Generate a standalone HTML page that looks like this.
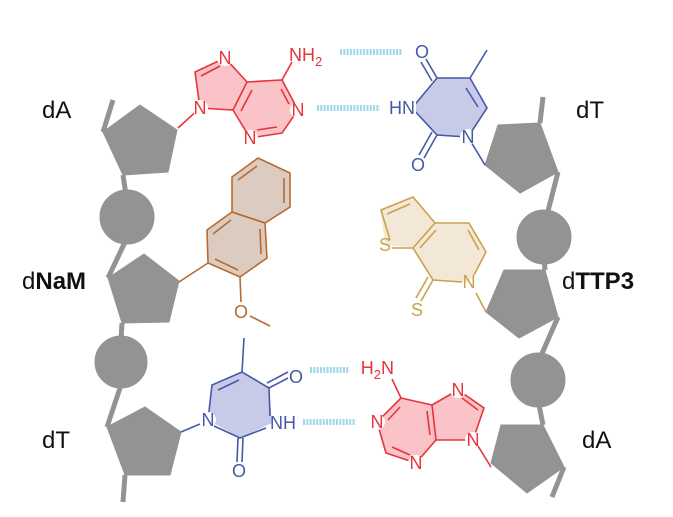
<!DOCTYPE html>
<html><head><meta charset="utf-8"><style>
html,body{margin:0;padding:0;background:#fff;}
svg{display:block;}
text{font-family:"Liberation Sans",sans-serif;}
</style></head><body>
<svg width="673" height="517" viewBox="0 0 673 517" xmlns="http://www.w3.org/2000/svg">
<!-- backbones -->
<g fill="#939393" stroke="#939393" stroke-width="5" stroke-linejoin="round">
  <polyline fill="none" points="113,100 103,132"/>
  <polyline fill="none" points="123,175 126,195"/>
  <polyline fill="none" points="126,240 108,278"/>
  <polyline fill="none" points="122,323 121,340"/>
  <polyline fill="none" points="121,385 107,427"/>
  <polyline fill="none" points="125,475 123,502"/>
  <polygon stroke-width="1" points="140,105 177,130 168,172 123,175 103,132"/>
  <circle stroke-width="1" cx="127" cy="217" r="27"/>
  <polygon stroke-width="1" points="144,254 179,281 169,322 122,323 108,278"/>
  <circle stroke-width="1" cx="121" cy="362" r="26"/>
  <polygon stroke-width="1" points="145,407 181,432 170,475 125,475 107,427"/>
  <polyline fill="none" points="543,97 540,123"/>
  <polyline fill="none" points="558,172 547,215"/>
  <polyline fill="none" points="544,260 545,270"/>
  <polyline fill="none" points="558,317 540,358"/>
  <polyline fill="none" points="538,400 543,425"/>
  <polyline fill="none" points="564,467 552,497"/>
  <polygon stroke-width="1" points="498,125 540,123 558,172 520,193 485,165"/>
  <circle stroke-width="1" cx="544" cy="237" r="27"/>
  <polygon stroke-width="1" points="504,270 545,270 558,317 519,338 486,312"/>
  <circle stroke-width="1" cx="538" cy="380" r="27"/>
  <polygon stroke-width="1" points="501,425 543,425 564,467 527,493 491,463"/>
</g>

<!-- H-bonds -->
<g stroke="#9dd7e9" stroke-width="6" stroke-dasharray="2 1.3">
  <line x1="340" y1="52" x2="402" y2="52"/>
  <line x1="317" y1="108" x2="380" y2="108"/>
  <line x1="310" y1="370" x2="349" y2="370"/>
  <line x1="303" y1="422" x2="356" y2="422"/>
</g>

<!-- top adenine -->
<g stroke="#e8343a" stroke-width="1.6" fill="none">
  <polygon fill="#f9c3c7" stroke="none" points="200,108 195,72 225,58 247,82 282,80 298,110 282,133 250,138 233,110"/>
  <polyline points="178,128 200,108 195,72 225,58 247,82 233,110 200,108"/>
  <polyline points="247,82 282,80 298,110 282,133 250,138 233,110"/>
  <line x1="282" y1="80" x2="292" y2="62"/>
  <line x1="201" y1="76" x2="220" y2="66"/>
  <line x1="252" y1="90" x2="241" y2="111"/>
  <line x1="281" y1="89" x2="289" y2="104"/>
  <line x1="277" y1="127" x2="257" y2="130"/>
</g>
<g fill="#e8343a" font-size="18" text-anchor="middle">
  <circle cx="200" cy="108" r="8" fill="#fff"/><text x="200" y="114">N</text>
  <circle cx="225" cy="58" r="8" fill="#fff"/><text x="225" y="64">N</text>
  <circle cx="298" cy="110" r="8" fill="#fff"/><text x="298" y="116">N</text>
  <circle cx="250" cy="138" r="8" fill="#fff"/><text x="250" y="144">N</text>
  <text x="289" y="61" text-anchor="start">NH<tspan font-size="13" dy="5">2</tspan></text>
</g>

<!-- top thymine -->
<g stroke="#4659a8" stroke-width="1.6" fill="none">
  <polygon fill="#c8cbe8" stroke="none" points="412,108 437,78 470,78 487,108 468,137 437,135"/>
  <polyline points="412,108 437,78 470,78 487,108 468,137 437,135 412,108"/>
  <line x1="470" y1="78" x2="487" y2="50"/>
  <line x1="466" y1="88" x2="478" y2="107"/>
  <line x1="437" y1="78" x2="426" y2="59"/>
  <line x1="432" y1="81" x2="421" y2="62"/>
  <line x1="437" y1="135" x2="424" y2="158"/>
  <line x1="432" y1="132" x2="419" y2="155"/>
  <line x1="468" y1="137" x2="485" y2="165"/>
</g>
<g fill="#4659a8" font-size="18" text-anchor="middle">
  <circle cx="422" cy="52" r="8" fill="#fff"/><text x="422" y="58">O</text>
  <circle cx="418" cy="165" r="8" fill="#fff"/><text x="418" y="171">O</text>
  <circle cx="468" cy="137" r="8" fill="#fff"/><text x="468" y="143">N</text>
  <rect x="388" y="98" width="28" height="20" fill="#fff"/><text x="402" y="114">HN</text>
</g>

<!-- dNaM -->
<g stroke="#b86a30" stroke-width="1.6" fill="none">
  <polygon fill="#dccbc0" stroke="none" points="258,158 290,173 290,207 265,223 267,258 240,277 208,263 207,230 232,212 232,177"/>
  <polygon points="258,158 290,173 290,207 265,223 232,212 232,177"/>
  <polygon points="232,212 265,223 267,258 240,277 208,263 207,230"/>
  <line x1="238" y1="180" x2="257" y2="166"/>
  <line x1="284" y1="178" x2="284" y2="203"/>
  <line x1="213" y1="234" x2="231" y2="220"/>
  <line x1="260" y1="229" x2="261" y2="254"/>
  <line x1="238" y1="270" x2="215" y2="259"/>
  <line x1="179" y1="282" x2="208" y2="263"/>
  <line x1="240" y1="277" x2="241" y2="302"/>
  <line x1="250" y1="316" x2="270" y2="326"/>
</g>
<g fill="#b86a30" font-size="18" text-anchor="middle"><text x="241" y="318">O</text></g>

<!-- dTTP3 -->
<g stroke="#c9a24a" stroke-width="1.6" fill="none">
  <polygon fill="#f3e8d8" stroke="none" points="385,245 381,210 413,197 435,223 469,223 486,252 469,282 433,280 413,248"/>
  <polyline points="390,240 381,210 413,197 435,223 413,248 392,248"/>
  <polyline points="435,223 469,223 486,252 474,275"/>
  <polyline points="462,282 433,280 413,248"/>
  <line x1="387" y1="214" x2="410" y2="204"/>
  <line x1="436" y1="230" x2="420" y2="248"/>
  <line x1="468" y1="230" x2="479" y2="250"/>
  <line x1="433" y1="280" x2="421" y2="301"/>
  <line x1="428" y1="277" x2="416" y2="298"/>
  <line x1="476" y1="293" x2="486" y2="312"/>
</g>
<g fill="#c9a24a" font-size="18" text-anchor="middle">
  <text x="385" y="251">S</text>
  <text x="417" y="316">S</text>
  <text x="469" y="288">N</text>
</g>

<!-- bottom thymine -->
<g stroke="#4659a8" stroke-width="1.6" fill="none">
  <polygon fill="#c8cbe8" stroke="none" points="212,385 242,372 269,388 272,423 240,438 208,420"/>
  <polyline points="208,420 212,385 242,372 269,388 270,416"/>
  <polyline points="266,428 240,438 214,426"/>
  <line x1="242" y1="372" x2="244" y2="338"/>
  <line x1="239" y1="380" x2="218" y2="390"/>
  <line x1="269" y1="388" x2="290" y2="377"/>
  <line x1="267" y1="383" x2="288" y2="372"/>
  <line x1="238" y1="438" x2="237" y2="462"/>
  <line x1="243" y1="438" x2="242" y2="462"/>
  <line x1="181" y1="432" x2="200" y2="424"/>
</g>
<g fill="#4659a8" font-size="18" text-anchor="middle">
  <circle cx="296" cy="377" r="8" fill="#fff"/><text x="296" y="383">O</text>
  <text x="239" y="477">O</text>
  <circle cx="208" cy="420" r="8" fill="#fff"/><text x="208" y="426">N</text>
  <text x="283" y="429">NH</text>
</g>

<!-- bottom adenine -->
<g stroke="#e8343a" stroke-width="1.6" fill="none">
  <polygon fill="#f9c3c7" stroke="none" points="401,398 432,405 458,390 484,408 473,440 436,440 416,463 386,453 377,422"/>
  <polyline points="401,398 377,422 386,453 416,463 436,440 432,405 401,398"/>
  <polyline points="432,405 458,390 484,408 473,440 436,440"/>
  <line x1="401" y1="398" x2="392" y2="379"/>
  <line x1="400" y1="407" x2="388" y2="420"/>
  <line x1="392" y1="447" x2="410" y2="455"/>
  <line x1="427" y1="411" x2="430" y2="435"/>
  <line x1="462" y1="398" x2="478" y2="410"/>
  <line x1="478" y1="446" x2="491" y2="467"/>
</g>
<g fill="#e8343a" font-size="18" text-anchor="middle">
  <circle cx="377" cy="422" r="8" fill="#fff"/><text x="377" y="428">N</text>
  <circle cx="416" cy="463" r="8" fill="#fff"/><text x="416" y="469">N</text>
  <circle cx="458" cy="390" r="8" fill="#fff"/><text x="458" y="396">N</text>
  <circle cx="473" cy="440" r="8" fill="#fff"/><text x="473" y="446">N</text>
  <text x="394" y="374" text-anchor="end">H<tspan font-size="13" dy="5">2</tspan><tspan dy="-5">N</tspan></text>
</g>

<!-- labels -->
<g fill="#111" font-size="24">
  <text x="42" y="118">dA</text>
  <text x="576" y="118">dT</text>
  <text x="22" y="289">d<tspan font-weight="bold">NaM</tspan></text>
  <text x="562" y="289">d<tspan font-weight="bold">TTP3</tspan></text>
  <text x="42" y="448">dT</text>
  <text x="582" y="448">dA</text>
</g>
</svg>
</body></html>
